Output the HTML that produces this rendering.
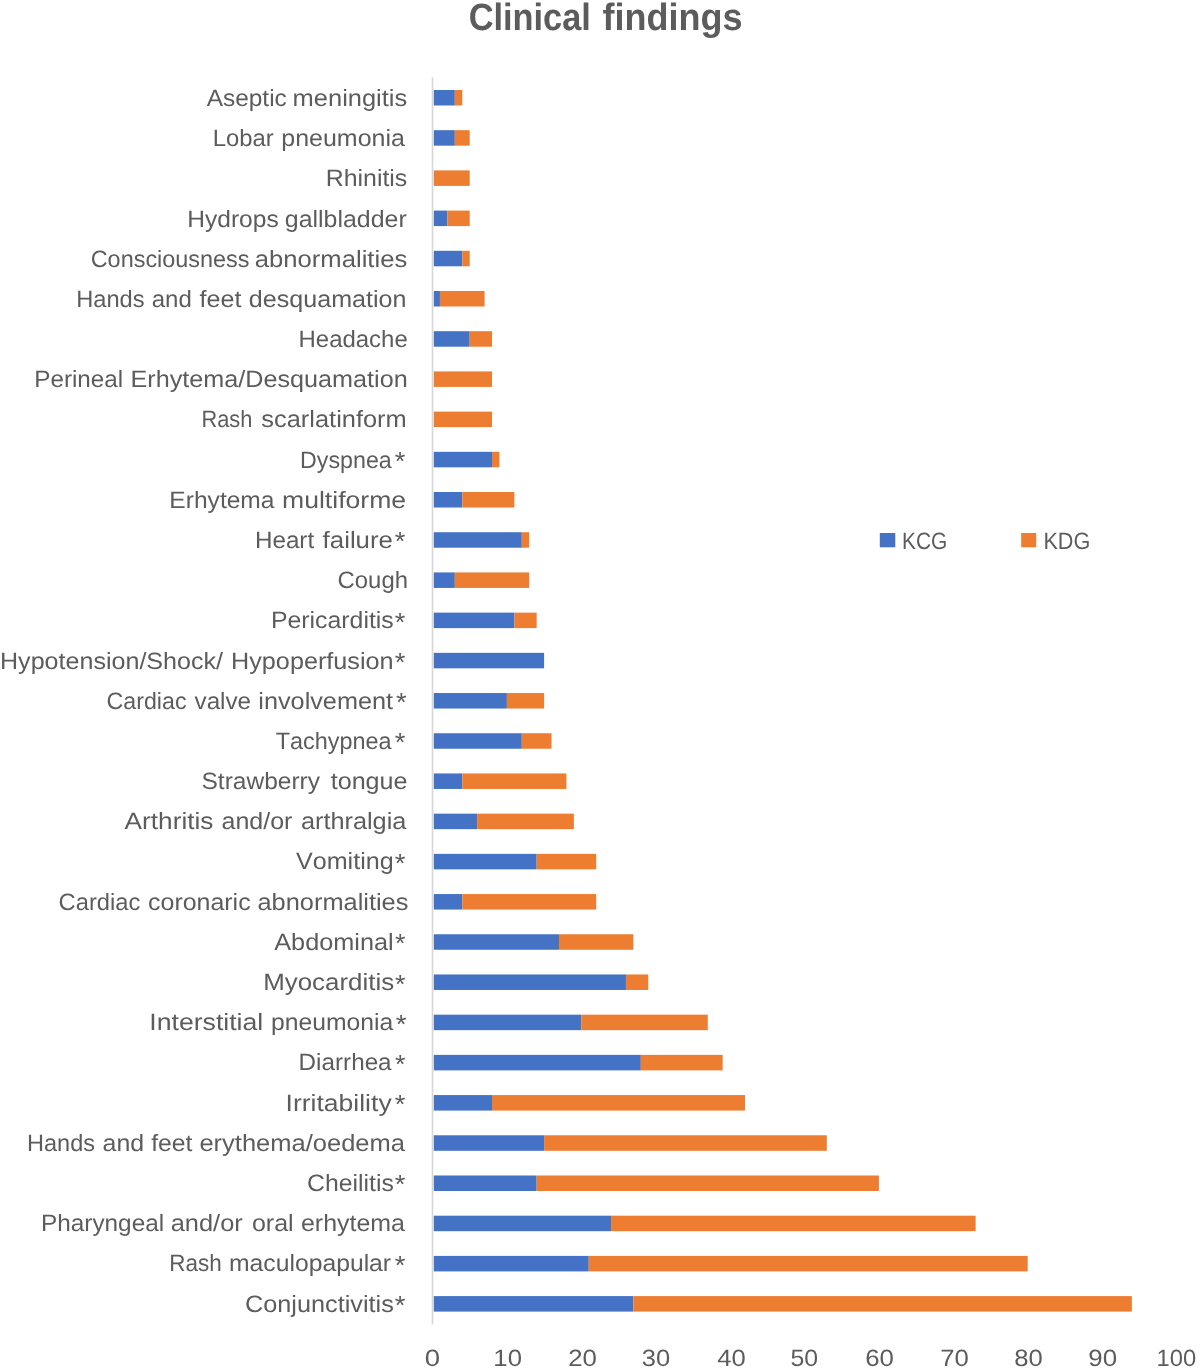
<!DOCTYPE html>
<html lang="en"><head><meta charset="utf-8"><title>Clinical findings</title>
<style>
html,body{margin:0;padding:0;background:#fff;}
body{width:1200px;height:1368px;overflow:hidden;}
svg{display:block;will-change:transform;}
text{font-family:"Liberation Sans",Arial,sans-serif;fill:#5c5c5c;font-kerning:none;text-rendering:geometricPrecision;}
.lab{font-size:23.6px;}
.st{font-size:26px;}
.ttl{font-size:38px;font-weight:bold;}
.k{fill:#4472c4;}
.d{fill:#ed7d31;}
</style></head><body>
<svg width="1200" height="1368" viewBox="0 0 1200 1368">
<rect width="1200" height="1368" fill="#ffffff"/>
<text class="ttl" y="29.9"><tspan x="468.69" textLength="122.19" lengthAdjust="spacingAndGlyphs">Clinical</tspan> <tspan x="602.43" textLength="139.99" lengthAdjust="spacingAndGlyphs">findings</tspan></text>
<rect x="431.7" y="77.5" width="1.6" height="1247" fill="#d6d6d6"/>
<rect class="k" x="433.80" y="89.98" width="21.02" height="15.50"/><rect class="d" x="454.82" y="89.98" width="7.44" height="15.50"/><text class="lab" y="105.94"><tspan x="206.65" textLength="80.19" lengthAdjust="spacingAndGlyphs">Aseptic</tspan> <tspan x="292.61" textLength="114.61" lengthAdjust="spacingAndGlyphs">meningitis</tspan></text>
<rect class="k" x="433.80" y="130.18" width="21.02" height="15.50"/><rect class="d" x="454.82" y="130.18" width="14.88" height="15.50"/><text class="lab" y="146.13"><tspan x="212.75" textLength="60.95" lengthAdjust="spacingAndGlyphs">Lobar</tspan> <tspan x="281.29" textLength="123.61" lengthAdjust="spacingAndGlyphs">pneumonia</tspan></text>
<rect class="d" x="433.80" y="170.39" width="35.90" height="15.50"/><text class="lab" y="186.31"><tspan x="325.76" textLength="81.54" lengthAdjust="spacingAndGlyphs">Rhinitis</tspan></text>
<rect class="k" x="433.80" y="210.59" width="13.58" height="15.50"/><rect class="d" x="447.38" y="210.59" width="22.32" height="15.50"/><text class="lab" y="226.50"><tspan x="187.29" textLength="91.40" lengthAdjust="spacingAndGlyphs">Hydrops</tspan> <tspan x="284.85" textLength="121.86" lengthAdjust="spacingAndGlyphs">gallbladder</tspan></text>
<rect class="k" x="433.80" y="250.80" width="28.46" height="15.50"/><rect class="d" x="462.26" y="250.80" width="7.44" height="15.50"/><text class="lab" y="266.68"><tspan x="90.71" textLength="158.84" lengthAdjust="spacingAndGlyphs">Consciousness</tspan> <tspan x="254.81" textLength="152.41" lengthAdjust="spacingAndGlyphs">abnormalities</tspan></text>
<rect class="k" x="433.80" y="291.00" width="6.14" height="15.50"/><rect class="d" x="439.94" y="291.00" width="44.64" height="15.50"/><text class="lab" y="306.87"><tspan x="76.16" textLength="68.40" lengthAdjust="spacingAndGlyphs">Hands</tspan> <tspan x="151.68" textLength="40.07" lengthAdjust="spacingAndGlyphs">and</tspan> <tspan x="199.44" textLength="41.94" lengthAdjust="spacingAndGlyphs">feet</tspan> <tspan x="248.85" textLength="157.68" lengthAdjust="spacingAndGlyphs">desquamation</tspan></text>
<rect class="k" x="433.80" y="331.20" width="35.90" height="15.50"/><rect class="d" x="469.70" y="331.20" width="22.32" height="15.50"/><text class="lab" y="347.05"><tspan x="298.53" textLength="109.23" lengthAdjust="spacingAndGlyphs">Headache</tspan></text>
<rect class="d" x="433.80" y="371.41" width="58.22" height="15.50"/><text class="lab" y="387.24"><tspan x="34.31" textLength="88.80" lengthAdjust="spacingAndGlyphs">Perineal</tspan> <tspan x="130.53" textLength="277.20" lengthAdjust="spacingAndGlyphs">Erhytema/Desquamation</tspan></text>
<rect class="d" x="433.80" y="411.61" width="58.22" height="15.50"/><text class="lab" y="427.42"><tspan x="201.51" textLength="50.90" lengthAdjust="spacingAndGlyphs">Rash</tspan> <tspan x="261.39" textLength="145.28" lengthAdjust="spacingAndGlyphs">scarlatinform</tspan></text>
<rect class="k" x="433.80" y="451.82" width="58.22" height="15.50"/><rect class="d" x="492.02" y="451.82" width="7.44" height="15.50"/><text class="lab" y="467.61"><tspan x="300.09" textLength="91.71" lengthAdjust="spacingAndGlyphs">Dyspnea</tspan><tspan class="st" dy="2.5" x="394.86" textLength="10.56" lengthAdjust="spacingAndGlyphs">*</tspan></text>
<rect class="k" x="433.80" y="492.02" width="28.46" height="15.50"/><rect class="d" x="462.26" y="492.02" width="52.08" height="15.50"/><text class="lab" y="507.80"><tspan x="169.39" textLength="105.11" lengthAdjust="spacingAndGlyphs">Erhytema</tspan> <tspan x="282.03" textLength="124.15" lengthAdjust="spacingAndGlyphs">multiforme</tspan></text>
<rect class="k" x="433.80" y="532.22" width="87.98" height="15.50"/><rect class="d" x="521.78" y="532.22" width="7.44" height="15.50"/><text class="lab" y="547.98"><tspan x="254.91" textLength="59.27" lengthAdjust="spacingAndGlyphs">Heart</tspan> <tspan x="322.63" textLength="70.31" lengthAdjust="spacingAndGlyphs">failure</tspan><tspan class="st" dy="2.5" x="394.86" textLength="10.56" lengthAdjust="spacingAndGlyphs">*</tspan></text>
<rect class="k" x="433.80" y="572.43" width="21.02" height="15.50"/><rect class="d" x="454.82" y="572.43" width="74.40" height="15.50"/><text class="lab" y="588.17"><tspan x="337.59" textLength="70.36" lengthAdjust="spacingAndGlyphs">Cough</tspan></text>
<rect class="k" x="433.80" y="612.63" width="80.54" height="15.50"/><rect class="d" x="514.34" y="612.63" width="22.32" height="15.50"/><text class="lab" y="628.35"><tspan x="270.96" textLength="122.83" lengthAdjust="spacingAndGlyphs">Pericarditis</tspan><tspan class="st" dy="2.5" x="394.86" textLength="10.56" lengthAdjust="spacingAndGlyphs">*</tspan></text>
<rect class="k" x="433.80" y="652.84" width="110.30" height="15.50"/><text class="lab" y="668.54"><tspan x="-0.01" textLength="223.01" lengthAdjust="spacingAndGlyphs">Hypotension/Shock/</tspan> <tspan x="231.03" textLength="162.61" lengthAdjust="spacingAndGlyphs">Hypoperfusion</tspan><tspan class="st" dy="2.5" x="394.86" textLength="10.67" lengthAdjust="spacingAndGlyphs">*</tspan></text>
<rect class="k" x="433.80" y="693.04" width="73.10" height="15.50"/><rect class="d" x="506.90" y="693.04" width="37.20" height="15.50"/><text class="lab" y="708.72"><tspan x="106.62" textLength="79.89" lengthAdjust="spacingAndGlyphs">Cardiac</tspan> <tspan x="194.52" textLength="56.56" lengthAdjust="spacingAndGlyphs">valve</tspan> <tspan x="258.31" textLength="134.77" lengthAdjust="spacingAndGlyphs">involvement</tspan><tspan class="st" dy="2.5" x="396.06" textLength="10.67" lengthAdjust="spacingAndGlyphs">*</tspan></text>
<rect class="k" x="433.80" y="733.24" width="87.98" height="15.50"/><rect class="d" x="521.78" y="733.24" width="29.76" height="15.50"/><text class="lab" y="748.91"><tspan x="275.77" textLength="115.83" lengthAdjust="spacingAndGlyphs">Tachypnea</tspan><tspan class="st" dy="2.5" x="394.86" textLength="10.67" lengthAdjust="spacingAndGlyphs">*</tspan></text>
<rect class="k" x="433.80" y="773.45" width="28.46" height="15.50"/><rect class="d" x="462.26" y="773.45" width="104.16" height="15.50"/><text class="lab" y="789.10"><tspan x="201.49" textLength="118.56" lengthAdjust="spacingAndGlyphs">Strawberry</tspan> <tspan x="330.72" textLength="76.80" lengthAdjust="spacingAndGlyphs">tongue</tspan></text>
<rect class="k" x="433.80" y="813.65" width="43.34" height="15.50"/><rect class="d" x="477.14" y="813.65" width="96.72" height="15.50"/><text class="lab" y="829.28"><tspan x="124.55" textLength="88.90" lengthAdjust="spacingAndGlyphs">Arthritis</tspan> <tspan x="221.54" textLength="70.88" lengthAdjust="spacingAndGlyphs">and/or</tspan> <tspan x="300.93" textLength="105.47" lengthAdjust="spacingAndGlyphs">arthralgia</tspan></text>
<rect class="k" x="433.80" y="853.86" width="102.86" height="15.50"/><rect class="d" x="536.66" y="853.86" width="59.52" height="15.50"/><text class="lab" y="869.47"><tspan x="295.99" textLength="97.63" lengthAdjust="spacingAndGlyphs">Vomiting</tspan><tspan class="st" dy="2.5" x="394.86" textLength="10.67" lengthAdjust="spacingAndGlyphs">*</tspan></text>
<rect class="k" x="433.80" y="894.06" width="28.46" height="15.50"/><rect class="d" x="462.26" y="894.06" width="133.92" height="15.50"/><text class="lab" y="909.65"><tspan x="58.60" textLength="81.73" lengthAdjust="spacingAndGlyphs">Cardiac</tspan> <tspan x="148.04" textLength="102.62" lengthAdjust="spacingAndGlyphs">coronaric</tspan> <tspan x="257.52" textLength="150.89" lengthAdjust="spacingAndGlyphs">abnormalities</tspan></text>
<rect class="k" x="433.80" y="934.26" width="125.18" height="15.50"/><rect class="d" x="558.98" y="934.26" width="74.40" height="15.50"/><text class="lab" y="949.84"><tspan x="274.25" textLength="119.34" lengthAdjust="spacingAndGlyphs">Abdominal</tspan><tspan class="st" dy="2.5" x="395.07" textLength="10.45" lengthAdjust="spacingAndGlyphs">*</tspan></text>
<rect class="k" x="433.80" y="974.47" width="192.14" height="15.50"/><rect class="d" x="625.94" y="974.47" width="22.32" height="15.50"/><text class="lab" y="990.02"><tspan x="263.18" textLength="130.96" lengthAdjust="spacingAndGlyphs">Myocarditis</tspan><tspan class="st" dy="2.5" x="395.07" textLength="10.45" lengthAdjust="spacingAndGlyphs">*</tspan></text>
<rect class="k" x="433.80" y="1014.67" width="147.50" height="15.50"/><rect class="d" x="581.30" y="1014.67" width="126.48" height="15.50"/><text class="lab" y="1030.21"><tspan x="149.34" textLength="113.94" lengthAdjust="spacingAndGlyphs">Interstitial</tspan> <tspan x="271.01" textLength="122.29" lengthAdjust="spacingAndGlyphs">pneumonia</tspan><tspan class="st" dy="2.5" x="395.75" textLength="10.78" lengthAdjust="spacingAndGlyphs">*</tspan></text>
<rect class="k" x="433.80" y="1054.88" width="207.02" height="15.50"/><rect class="d" x="640.82" y="1054.88" width="81.84" height="15.50"/><text class="lab" y="1070.39"><tspan x="298.61" textLength="92.99" lengthAdjust="spacingAndGlyphs">Diarrhea</tspan><tspan class="st" dy="2.5" x="395.07" textLength="10.45" lengthAdjust="spacingAndGlyphs">*</tspan></text>
<rect class="k" x="433.80" y="1095.08" width="58.22" height="15.50"/><rect class="d" x="492.02" y="1095.08" width="252.96" height="15.50"/><text class="lab" y="1110.58"><tspan x="285.55" textLength="106.10" lengthAdjust="spacingAndGlyphs">Irritability</tspan><tspan class="st" dy="2.5" x="394.86" textLength="10.67" lengthAdjust="spacingAndGlyphs">*</tspan></text>
<rect class="k" x="433.80" y="1135.28" width="110.30" height="15.50"/><rect class="d" x="544.10" y="1135.28" width="282.72" height="15.50"/><text class="lab" y="1150.77"><tspan x="27.07" textLength="67.98" lengthAdjust="spacingAndGlyphs">Hands</tspan> <tspan x="102.54" textLength="41.56" lengthAdjust="spacingAndGlyphs">and</tspan> <tspan x="151.15" textLength="41.23" lengthAdjust="spacingAndGlyphs">feet</tspan> <tspan x="199.42" textLength="205.58" lengthAdjust="spacingAndGlyphs">erythema/oedema</tspan></text>
<rect class="k" x="433.80" y="1175.49" width="102.86" height="15.50"/><rect class="d" x="536.66" y="1175.49" width="342.24" height="15.50"/><text class="lab" y="1190.95"><tspan x="307.04" textLength="86.75" lengthAdjust="spacingAndGlyphs">Cheilitis</tspan><tspan class="st" dy="2.5" x="394.86" textLength="10.67" lengthAdjust="spacingAndGlyphs">*</tspan></text>
<rect class="k" x="433.80" y="1215.69" width="177.26" height="15.50"/><rect class="d" x="611.06" y="1215.69" width="364.56" height="15.50"/><text class="lab" y="1231.14"><tspan x="41.00" textLength="123.12" lengthAdjust="spacingAndGlyphs">Pharyngeal</tspan> <tspan x="170.72" textLength="72.00" lengthAdjust="spacingAndGlyphs">and/or</tspan> <tspan x="251.95" textLength="41.72" lengthAdjust="spacingAndGlyphs">oral</tspan> <tspan x="300.94" textLength="104.06" lengthAdjust="spacingAndGlyphs">erhytema</tspan></text>
<rect class="k" x="433.80" y="1255.90" width="154.94" height="15.50"/><rect class="d" x="588.74" y="1255.90" width="438.96" height="15.50"/><text class="lab" y="1271.32"><tspan x="169.26" textLength="52.40" lengthAdjust="spacingAndGlyphs">Rash</tspan> <tspan x="228.96" textLength="162.15" lengthAdjust="spacingAndGlyphs">maculopapular</tspan><tspan class="st" dy="2.5" x="394.86" textLength="10.67" lengthAdjust="spacingAndGlyphs">*</tspan></text>
<rect class="k" x="433.80" y="1296.10" width="199.58" height="15.50"/><rect class="d" x="633.38" y="1296.10" width="498.48" height="15.50"/><text class="lab" y="1311.51"><tspan x="245.02" textLength="148.80" lengthAdjust="spacingAndGlyphs">Conjunctivitis</tspan><tspan class="st" dy="2.5" x="394.86" textLength="10.67" lengthAdjust="spacingAndGlyphs">*</tspan></text>
<text class="lab" y="1366.1"><tspan x="424.73" textLength="15.30" lengthAdjust="spacingAndGlyphs">0</tspan> <tspan x="493.34" textLength="28.61" lengthAdjust="spacingAndGlyphs">10</tspan> <tspan x="568.25" textLength="28.71" lengthAdjust="spacingAndGlyphs">20</tspan> <tspan x="641.83" textLength="28.37" lengthAdjust="spacingAndGlyphs">30</tspan> <tspan x="717.21" textLength="28.49" lengthAdjust="spacingAndGlyphs">40</tspan> <tspan x="790.56" textLength="27.61" lengthAdjust="spacingAndGlyphs">50</tspan> <tspan x="865.24" textLength="28.72" lengthAdjust="spacingAndGlyphs">60</tspan> <tspan x="940.23" textLength="28.57" lengthAdjust="spacingAndGlyphs">70</tspan> <tspan x="1014.19" textLength="28.52" lengthAdjust="spacingAndGlyphs">80</tspan> <tspan x="1088.34" textLength="28.77" lengthAdjust="spacingAndGlyphs">90</tspan> <tspan x="1156.49" textLength="39.64" lengthAdjust="spacingAndGlyphs">100</tspan></text>
<rect class="k" x="879.8" y="533" width="15.5" height="14.3"/><text class="lab" y="548.9"><tspan x="902.09" textLength="45.27" lengthAdjust="spacingAndGlyphs">KCG</tspan></text>
<rect class="d" x="1021.2" y="533" width="15" height="14.3"/><text class="lab" y="548.9"><tspan x="1043.42" textLength="46.89" lengthAdjust="spacingAndGlyphs">KDG</tspan></text>
</svg>
</body></html>
